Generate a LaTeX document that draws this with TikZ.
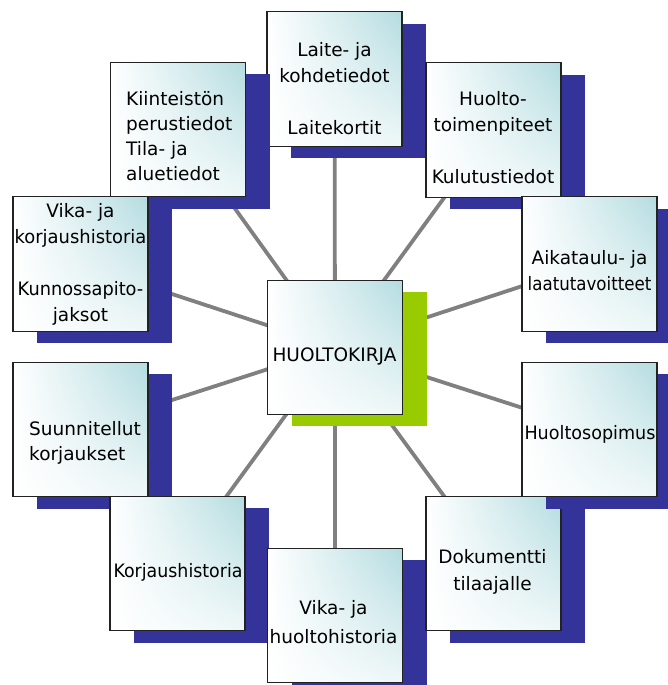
\documentclass[tikz,border=0pt]{standalone}
\usepackage{fontspec}
\usepackage{graphicx}
\setmainfont{DejaVu Sans}
\usetikzlibrary{shadows,backgrounds,shadings}
\definecolor{navyc}{RGB}{51,51,153}
\definecolor{limec}{RGB}{153,204,0}
\definecolor{tealc}{RGB}{180,220,224}
\definecolor{tealw}{RGB}{238,247,248}
\definecolor{linkc}{RGB}{128,128,128}
\definecolor{edgec}{RGB}{34,34,34}
\newcommand{\squeeze}[2]{\scalebox{#1}[1]{#2}}
\begin{document}
\begin{tikzpicture}[x=1pt,y=-1pt,
  box/.style={rectangle, minimum width=135pt, minimum height=134.5pt, inner sep=0pt,
    draw=edgec, line width=1.3pt,
    upper left=white, lower left=white, upper right=tealc, lower right=tealw},
  blueshadow/.style={general shadow={fill=navyc, shadow xshift=24pt, shadow yshift=-12pt}},
  greenshadow/.style={general shadow={fill=limec, shadow xshift=24pt, shadow yshift=-11.5pt}},
  lbl/.style={inner sep=0pt, font=\fontsize{18.5}{26}\selectfont, align=center, anchor=north},
  lbll/.style={lbl, align=left, anchor=north west},
  lbls/.style={inner sep=0pt, font=\fontsize{18.5}{26}\selectfont, anchor=base},
  link/.style={draw=linkc, line width=3.8pt}
]
\useasboundingbox (0,0) rectangle (668,685);
\clip (0,0) rectangle (668,685);

% outer boxes (drawing order matters for overlapping shadows)
\node[box, blueshadow] (n1) at (334.5,79) {};
\node[lbl] (t1) at (334.5,42) {Laite- ja\\kohdetiedot\\ \\Laitekortit};

\node[box, blueshadow] (n2) at (493.5,130) {};
\node[lbl] (t2) at (493,91) {Huolto-\\toimenpiteet\\ \\Kulutustiedot};

\node[box, blueshadow] (n3) at (589.5,264) {};
\node[lbl] (t3) at (589.5,250) {Aikataulu- ja\\\squeeze{0.9}{laatutavoitteet}};

\node[box, blueshadow] (n10) at (178,129.5) {};
\node[lbll] (t10) at (126,91) {Kiinteist\"on\\[-1pt]perustiedot\\[-1pt]Tila- ja\\[-1pt]aluetiedot};

\node[box, blueshadow] (n9) at (80.5,264) {};
\node[lbl] (t9) at (80.5,203) {Vika- ja\\\squeeze{0.97}{korjaushistoria}\\ \\\squeeze{0.96}{Kunnossapito-}\\jaksot};

\node[box, blueshadow] (n8) at (80.5,429.5) {};
\node[lbll] (t8) at (29,421) {Suunnitellut\\[-1pt]korjaukset};

\node[box, blueshadow] (n7) at (177.5,563.5) {};
\node[lbls] (t7) at (178,577) {\squeeze{0.94}{Korjaushistoria}};

\node[box, blueshadow] (n6) at (335,615.5) {};
\node[lbl] (t6) at (333.5,600) {Vika- ja\\[3pt]huoltohistoria};

\node[box, blueshadow] (n5) at (493.5,563.5) {};
\node[lbl] (t5) at (492.5,549) {Dokumentti\\[1pt]tilaajalle};

\node[box, blueshadow] (n4) at (589.5,429.5) {};
\node[lbls] (t4) at (590,439) {\squeeze{0.95}{Huoltosopimus}};

% centre
\node[box, greenshadow] (c) at (335,347.5) {};
\node[lbls] (t11) at (334.5,361) {HUOLTOKIRJA};

% connectors behind everything
\begin{scope}[on background layer]
  \foreach \n in {n1,n2,n3,n4,n5,n6,n7,n8,n9,n10}
    \draw[link] (c.center) -- (\n.center);
\end{scope}
\end{tikzpicture}
\end{document}
